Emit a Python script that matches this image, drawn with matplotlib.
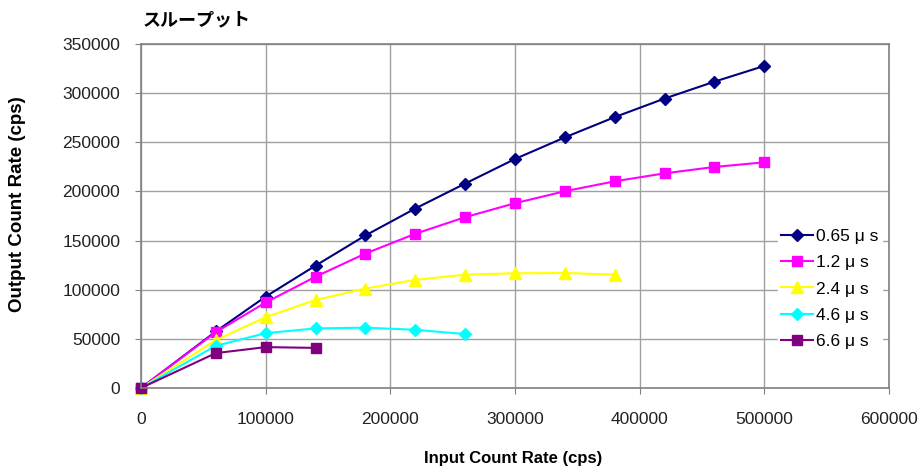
import numpy as np
import matplotlib.pyplot as plt

plt.rcParams['font.family'] = ['Liberation Sans', 'DejaVu Sans']

# data (cps)
x_065 = [0, 60000, 100000, 140000, 180000, 220000, 260000, 300000, 340000, 380000, 420000, 460000, 500000]
y_065 = [0, 57500, 93000, 124500, 155200, 182600, 208000, 233000, 255000, 275600, 294500, 311700, 327700]

x_12 = [0, 60000, 100000, 140000, 180000, 220000, 260000, 300000, 340000, 380000, 420000, 460000, 500000]
y_12 = [0, 56800, 87000, 113200, 136800, 156900, 173800, 188000, 200200, 210300, 218400, 224900, 229600]

x_24 = [0, 60000, 100000, 140000, 180000, 220000, 260000, 300000, 340000, 380000]
y_24 = [0, 48700, 72000, 89600, 101200, 110000, 115400, 116700, 117000, 115400]

x_46 = [0, 60000, 100000, 140000, 180000, 220000, 260000]
y_46 = [0, 42900, 55800, 60600, 61400, 59200, 54900]

x_66 = [0, 60000, 100000, 140000]
y_66 = [0, 35500, 41600, 40800]

series = [
    ('0.65 μ s', x_065, y_065, '#000080', 'D', 6),
    ('1.2 μ s', x_12, y_12, '#ff00ff', 's', 7.5),
    ('2.4 μ s', x_24, y_24, '#ffff00', '^', 8),
    ('4.6 μ s', x_46, y_46, '#00ffff', 'D', 6),
    ('6.6 μ s', x_66, y_66, '#800080', 's', 7.5),
]

fig = plt.figure(figsize=(9.23, 4.69), dpi=100)
ax = fig.add_axes([141/923, 1-388/469, (889-141)/923, (388-44)/469])

for label, xs, ys, col, mk, ms in series:
    ax.plot(xs, ys, color=col, marker=mk, markersize=ms, linewidth=1.5,
            label=label, clip_on=False)

ax.set_xlim(0, 600000)
ax.set_ylim(0, 350000)
ax.set_xticks(np.arange(0, 600001, 100000))
ax.set_yticks(np.arange(0, 350001, 50000))
ax.grid(True, color='#a0a0a0', linewidth=1)
ax.set_axisbelow(True)
for s in ax.spines.values():
    s.set_color('#808080')
    s.set_linewidth(1.2)
ax.tick_params(axis='x', length=4, color='#808080', pad=13, labelsize=12.5, labelcolor='#222222')
ax.tick_params(axis='y', length=4, color='#808080', pad=11, labelsize=12.5, labelcolor='#222222')

fig.text(18/923, 1-204/469, 'Output Count Rate (cps)', rotation=90, ha='center', va='center',
         fontsize=13.5, fontweight='bold')
fig.text(513/923, 1-458/469, 'Input Count Rate (cps)', ha='center', va='center',
         fontsize=12, fontweight='bold')
fig.text(143/923, 1-20/469, 'スループット', ha='left', va='center', fontsize=13,
         fontweight='bold', family=['Noto Sans CJK JP', 'DejaVu Sans'])

leg = ax.legend(loc='center left', bbox_to_anchor=(778/923, 1-289/469),
                bbox_transform=fig.transFigure, frameon=True, fontsize=12.5,
                handlelength=1.8, handletextpad=0.2, labelspacing=0.65,
                borderpad=0.2, borderaxespad=0)
leg.get_frame().set_edgecolor('white')
leg.get_frame().set_facecolor('white')
leg.get_frame().set_alpha(1)
leg.get_frame().set_boxstyle('square', pad=0)

fig.savefig('out.png', dpi=100)
